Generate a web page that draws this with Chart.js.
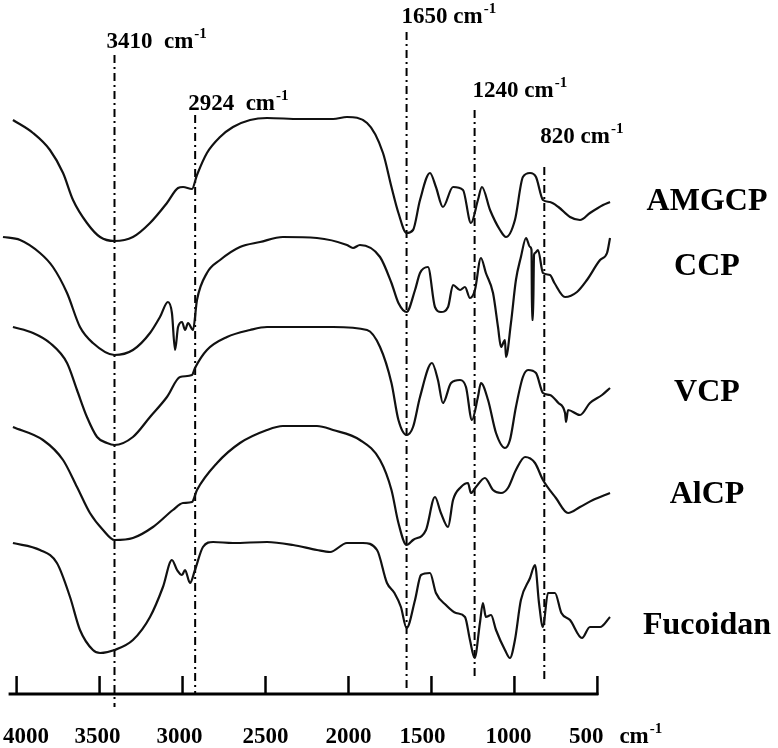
<!DOCTYPE html>
<html><head><meta charset="utf-8">
<script src="https://cdn.jsdelivr.net/npm/chart.js@4/dist/chart.umd.min.js"></script>
<style>html,body{margin:0;padding:0;background:#fff;} #wrap{width:778px;height:748px;}</style>
</head><body><div id="wrap"><canvas id="c" width="778" height="748"></canvas></div>
<script>
// ---- data (wavenumber in cm-1, transmittance in arbitrary offset units) ----
const sampleNames = ['AMGCP', 'CCP', 'VCP', 'AlCP', 'Fucoidan'];

const wnAMGCP = [4022,3901,3799,3720,3660,3576,3497,3410,3299,3196,3094,3027,2997,2943,2913,2853,2774,2696,2593,2491,2292,2093,2009,1888,1792,1741,1699,1650,1611,1569,1509,1473,1431,1370,1310,1262,1220,1196,1147,1087,1051,997,949,906,870,828,786,735,665,605,545,466,424];
const tAMGCP  = [574,561,544,521,494,471,457,453,457,471,491,506,507,505,519,541,557,567,574,576,575,575,577,571,541,507,481,461,464,494,521,507,487,507,504,471,494,507,484,464,457,474,517,521,517,494,492,487,477,474,481,489,492];

const wnCCP = [4082,3979,3859,3781,3696,3618,3540,3410,3299,3196,3136,3088,3064,3045,3027,3003,2985,2967,2937,2913,2853,2774,2654,2533,2395,2190,2009,1973,1931,1810,1741,1699,1650,1599,1569,1521,1479,1443,1400,1370,1328,1298,1268,1238,1202,1172,1129,1099,1081,1057,1051,1021,991,961,930,906,897,894,888,882,876,858,828,786,759,695,623,563,484,442,424];
const tCCP  = [457,454,441,427,401,367,351,339,344,361,377,392,381,344,367,372,364,371,364,394,421,434,447,452,457,456,449,446,449,437,411,391,382,404,421,427,387,382,387,409,404,407,396,404,436,421,401,367,347,354,337,371,414,437,456,447,444,374,374,439,441,444,421,419,411,397,402,414,434,441,456];

const wnVCP = [4022,3901,3799,3696,3636,3576,3515,3455,3410,3299,3196,3094,3015,2943,2925,2853,2732,2593,2491,2093,1888,1810,1741,1699,1650,1611,1569,1497,1461,1431,1382,1328,1292,1256,1220,1202,1159,1111,1057,1027,991,949,918,870,828,786,735,695,689,677,605,545,472,424];
const tVCP  = [367,361,351,331,304,277,257,251,249,257,277,297,317,319,326,344,357,364,367,367,364,347,311,274,259,267,297,331,314,291,311,314,307,274,297,311,294,261,246,254,287,317,324,321,301,299,291,281,272,284,279,291,299,306];

const wnAlCP = [4022,3841,3720,3636,3558,3479,3410,3299,3178,3058,2997,2943,2913,2792,2654,2491,2395,2190,2093,1931,1810,1741,1699,1650,1611,1533,1479,1443,1400,1370,1322,1280,1262,1232,1178,1129,1081,1039,991,936,876,828,750,677,605,527,424];
const tAlCP  = [267,254,234,207,181,164,154,156,167,184,191,192,204,231,251,264,268,268,264,254,234,204,171,149,154,164,197,181,167,194,207,211,201,207,216,204,201,206,224,237,231,214,196,181,187,194,201];

const wnFucoidan = [4022,3859,3757,3678,3618,3540,3497,3410,3299,3196,3118,3064,3033,3003,2985,2955,2925,2877,2816,2696,2491,2334,2190,2111,2009,1913,1828,1768,1723,1684,1650,1599,1563,1509,1473,1413,1352,1298,1268,1240,1208,1190,1172,1141,1111,1057,1027,997,961,906,876,852,828,798,756,717,665,593,545,484,424];
const tFucoidan  = [151,144,131,97,64,44,41,44,54,77,107,134,124,119,124,111,124,147,152,151,152,149,144,142,151,151,144,111,101,87,66,94,119,121,101,89,81,77,54,36,71,91,77,79,64,44,36,54,94,116,129,91,67,101,101,81,74,56,67,67,77];

const peakWn     = [3410, 2924, 1650, 1240, 820];
const peakTop    = [639, 579, 662, 584, 527];
const peakBottom = [-13, 1, 6, 14, 15];

const tickValues = [4000, 3500, 3000, 2500, 2000, 1500, 1000, 500];

// ---- layout / style (not data) ----
const FONT = '"Liberation Serif", "Times New Roman", serif';
const peakLabelOffset = [[-8,-7],[-7,-5],[-5,-9],[-2,-13],[-4,-24]];
const peakLabelGap = ['  ', '  ', ' ', ' ', ' '];
const tickLabelNudge = [0, -2, -3, 0, 0, -9, -6, 0];
const nameLabelY = [492, 427, 301, 199, 68];
const nameLabelX = 707;

const wnList = [wnAMGCP, wnCCP, wnVCP, wnAlCP, wnFucoidan];
const tList = [tAMGCP, tCCP, tVCP, tAlCP, tFucoidan];

const datasets = sampleNames.map((n, k) => ({
  label: n,
  data: wnList[k].map((w, i) => ({x: w, y: tList[k][i]})),
  borderColor: '#111',
  borderWidth: 2.2,
  pointRadius: 0,
  fill: false,
  cubicInterpolationMode: 'monotone'
}));
peakWn.forEach((w, i) => datasets.push({
  label: 'peak ' + w,
  data: [{x: w, y: peakTop[i]}, {x: w, y: peakBottom[i]}],
  borderColor: '#000',
  borderWidth: 2,
  borderDash: [8, 4, 2, 4],
  pointRadius: 0,
  fill: false
}));

function drawWithSup(ctx, text, sup, x, y, size, supSize) {
  ctx.font = `bold ${size}px ${FONT}`;
  ctx.textAlign = 'left';
  ctx.fillText(text, x, y);
  const w = ctx.measureText(text).width;
  ctx.font = `bold ${supSize}px ${FONT}`;
  ctx.fillText(sup, x + w + 1, y - size * 0.42);
}

const decor = {
  id: 'decor',
  beforeDraw(chart) {
    const ctx = chart.ctx;
    ctx.save();
    ctx.fillStyle = '#fff';
    ctx.fillRect(0, 0, chart.width, chart.height);
    ctx.restore();
  },
  afterDatasetsDraw(chart) {
    const ctx = chart.ctx;
    const xs = chart.scales.x, ys = chart.scales.y;
    ctx.save();
    ctx.strokeStyle = '#000';
    ctx.fillStyle = '#000';
    const y0 = ys.getPixelForValue(0);
    const xa = xs.getPixelForValue(tickValues[0]);
    const xb = xs.getPixelForValue(tickValues[tickValues.length - 1]);
    ctx.lineWidth = 3;
    ctx.beginPath();
    ctx.moveTo(xa - 8, y0); ctx.lineTo(xb + 1, y0);
    ctx.stroke();
    ctx.lineWidth = 2.5;
    ctx.font = `bold 23px ${FONT}`;
    ctx.textBaseline = 'alphabetic';
    tickValues.forEach((v, i) => {
      const px = xs.getPixelForValue(v);
      ctx.beginPath();
      ctx.moveTo(px, y0 + 1); ctx.lineTo(px, y0 - 18);
      ctx.stroke();
      const s = String(v);
      const w = ctx.measureText(s).width;
      let cx = px + tickLabelNudge[i];
      cx = Math.max(cx, 3 + w / 2);
      cx = Math.min(cx, xb + 6 - w / 2);
      ctx.textAlign = 'center';
      ctx.fillText(s, cx, 743);
    });
    drawWithSup(ctx, 'cm', '-1', xb + 22, 743, 23, 15);
    peakWn.forEach((w, i) => {
      const px = xs.getPixelForValue(w) + peakLabelOffset[i][0];
      const py = ys.getPixelForValue(peakTop[i]) + peakLabelOffset[i][1];
      drawWithSup(ctx, w + peakLabelGap[i] + 'cm', '-1', px, py, 23, 15);
    });
    ctx.font = `bold 32px ${FONT}`;
    ctx.textAlign = 'center';
    ctx.textBaseline = 'middle';
    sampleNames.forEach((n, i) => {
      ctx.fillText(n, nameLabelX, ys.getPixelForValue(nameLabelY[i]));
    });
    ctx.restore();
  }
};

new Chart(document.getElementById('c'), {
  type: 'line',
  data: {datasets},
  options: {
    responsive: false,
    animation: false,
    devicePixelRatio: 1,
    layout: {padding: {left: 0, right: 164, top: 0, bottom: 40}},
    plugins: {legend: {display: false}, tooltip: {enabled: false}},
    scales: {
      x: {type: 'linear', min: 400, max: 4100, reverse: true, display: false},
      y: {type: 'linear', min: -14, max: 694, display: false}
    }
  },
  plugins: [decor]
});
</script>
</body></html>
